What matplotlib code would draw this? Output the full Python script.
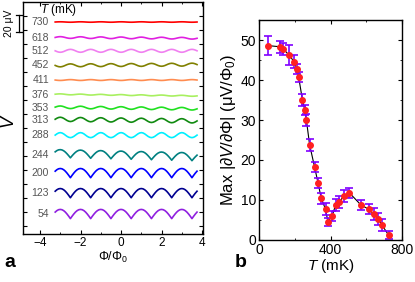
import matplotlib
matplotlib.use("Agg")
import matplotlib.pyplot as plt
import numpy as np
from matplotlib.ticker import MultipleLocator

plt.rcParams["font.family"] = ["Liberation Sans", "DejaVu Sans"]
plt.rcParams["mathtext.fontset"] = "custom"
plt.rcParams["mathtext.rm"] = "Liberation Sans"
plt.rcParams["mathtext.it"] = "Liberation Sans:italic"

# ---- panel a: V(Phi) traces, offset vertically (uV) ----
temps_a = [730, 618, 512, 452, 411, 376, 353, 313, 288, 244, 200, 123, 54]
offsets = [254, 235, 219.5, 202.5, 184.5, 166.5, 151, 136.5, 118.5, 94.5, 73, 49, 24]
amps = [0.5, 2.0, -3.5, -3.5, -1.0, 1.0, 3.0, 5.0, 6.0, 9.5, 11.0, 11.0, 11.0]
tilts = [0.0, -1.0, 0.0, 1.0, 0.0, -2.0, -2.0, -2.0, 0.0, -4.0, 0.0, 0.0, 0.0]
cusped = [False, False, False, False, False, False, False, False, False, True, True, True, True]
colors = ["#ff0000", "#e020e0", "#f080f0", "#808000", "#ff8c50", "#a8f060",
          "#20e020", "#108a10", "#00f0ff", "#008080", "#0000ff", "#000090", "#9020e0"]

# one flux period sampled from Phi = integer (12 points), normalised 0..1
cusp_shape = [1.0, 0.97, 0.87, 0.71, 0.5, 0.26, 0.0, 0.26, 0.5, 0.71, 0.87, 0.97]
smooth_shape = [1.0, 0.93, 0.75, 0.5, 0.25, 0.07, 0.0, 0.07, 0.25, 0.5, 0.75, 0.93]

# ---- panel b: max slope vs T ----
T_b = [52, 120, 135, 167, 196, 212, 222, 243, 256, 265, 283, 311, 330, 348, 372, 385,
       409, 428, 450, 474, 505, 570, 613, 641, 667, 687, 724]
slope = [48.6, 48.3, 47.8, 46.3, 44.6, 42.8, 40.7, 35.0, 32.5, 30.0, 23.8, 18.2, 14.3, 10.4,
         7.7, 4.6, 6.0, 8.75, 9.6, 11.0, 11.8, 8.75, 7.7, 6.5, 5.2, 3.75, 1.25]
slope_err = [2.4, 1.5, 1.5, 2.5, 1.6, 1.3, 1.3, 1.5, 1.3, 1.5, 1.5, 1.3, 1.2, 1.3, 1.5, 1.0,
             1.2, 1.4, 1.5, 1.5, 1.3, 1.3, 1.3, 1.4, 1.5, 1.4, 1.0]

fig = plt.figure(figsize=(4.15, 2.82), dpi=100)
ax = fig.add_axes([0.0554, 0.170, 0.434, 0.823])
bx = fig.add_axes([0.624, 0.149, 0.345, 0.780])

step = 1 / 12
phi = np.arange(-3.25, 3.80, step)
idx = np.round((phi - np.floor(phi)) / step).astype(int) % 12
for T, off, a, tilt, cu, c in zip(temps_a, offsets, amps, tilts, cusped, colors):
    shape = np.array(cusp_shape if cu else smooth_shape)[idx]
    y = off + a * (shape - 0.5) + tilt * (phi - phi[0]) / (phi[-1] - phi[0]) - tilt / 2
    ax.plot(phi, y, color=c, lw=1.2)
    ax.text(-3.55, off, str(T), ha="right", va="center", fontsize=7.5, color="#555555")

ax.text(-4.0, 268, "$T$ (mK)", fontsize=8.5, va="center")
ax.set_xlim(-4.84, 4.05)
ax.set_ylim(0, 278)
ax.xaxis.set_major_locator(MultipleLocator(2))
ax.xaxis.set_minor_locator(MultipleLocator(1))
ax.set_yticks(np.arange(9.6, 270, 16.8))
ax.set_yticklabels([])
ax.tick_params(which="both", direction="in", top=True, right=True, labelsize=8.5, pad=2)
ax.tick_params(which="major", length=3)
ax.tick_params(which="minor", length=1.5)
ax.set_xlabel("Φ/Φ$_0$", fontsize=9, labelpad=1)

# scale bar 20 uV
fig.add_artist(plt.Line2D([0.0458, 0.0458], [0.887, 0.946], color="black", lw=0.9,
                          transform=fig.transFigure))
for yy in (0.887, 0.946):
    fig.add_artist(plt.Line2D([0.038, 0.054], [yy, yy], color="black", lw=0.9,
                              transform=fig.transFigure))
fig.text(0.022, 0.917, "20 μV", rotation=90, ha="center", va="center", fontsize=7.5)
fig.text(0.022, 0.57, "$V$", rotation=90, ha="center", va="center", fontsize=13)
fig.text(0.01, 0.07, "a", fontsize=14, fontweight="bold", va="center")

bx.plot(T_b, slope, color="black", lw=0.8, zorder=1)
bx.errorbar(T_b, slope, yerr=slope_err, fmt="none", ecolor="#8000ff", elinewidth=1.2,
            capsize=3, capthick=1.2, zorder=2)
bx.plot(T_b, slope, "o", color="#ff2020", ms=4, mec="#ff2020", zorder=3)
bx.set_xlim(0, 800)
bx.set_ylim(0, 55)
bx.xaxis.set_major_locator(MultipleLocator(400))
bx.xaxis.set_minor_locator(MultipleLocator(200))
bx.yaxis.set_major_locator(MultipleLocator(10))
bx.yaxis.set_minor_locator(MultipleLocator(5))
bx.tick_params(which="both", direction="in", top=True, right=True, labelsize=10, pad=2)
bx.tick_params(which="major", length=3)
bx.tick_params(which="minor", length=1.5)
bx.set_xlabel("$T$ (mK)", fontsize=11, labelpad=0)
bx.set_ylabel("Max |∂$V$/∂Φ| (μV/Φ$_0$)", fontsize=12, labelpad=2)
fig.text(0.565, 0.07, "b", fontsize=14, fontweight="bold", va="center")

for a_ in (ax, bx):
    for s in a_.spines.values():
        s.set_linewidth(1.0)

fig.savefig("out.png", dpi=100)
